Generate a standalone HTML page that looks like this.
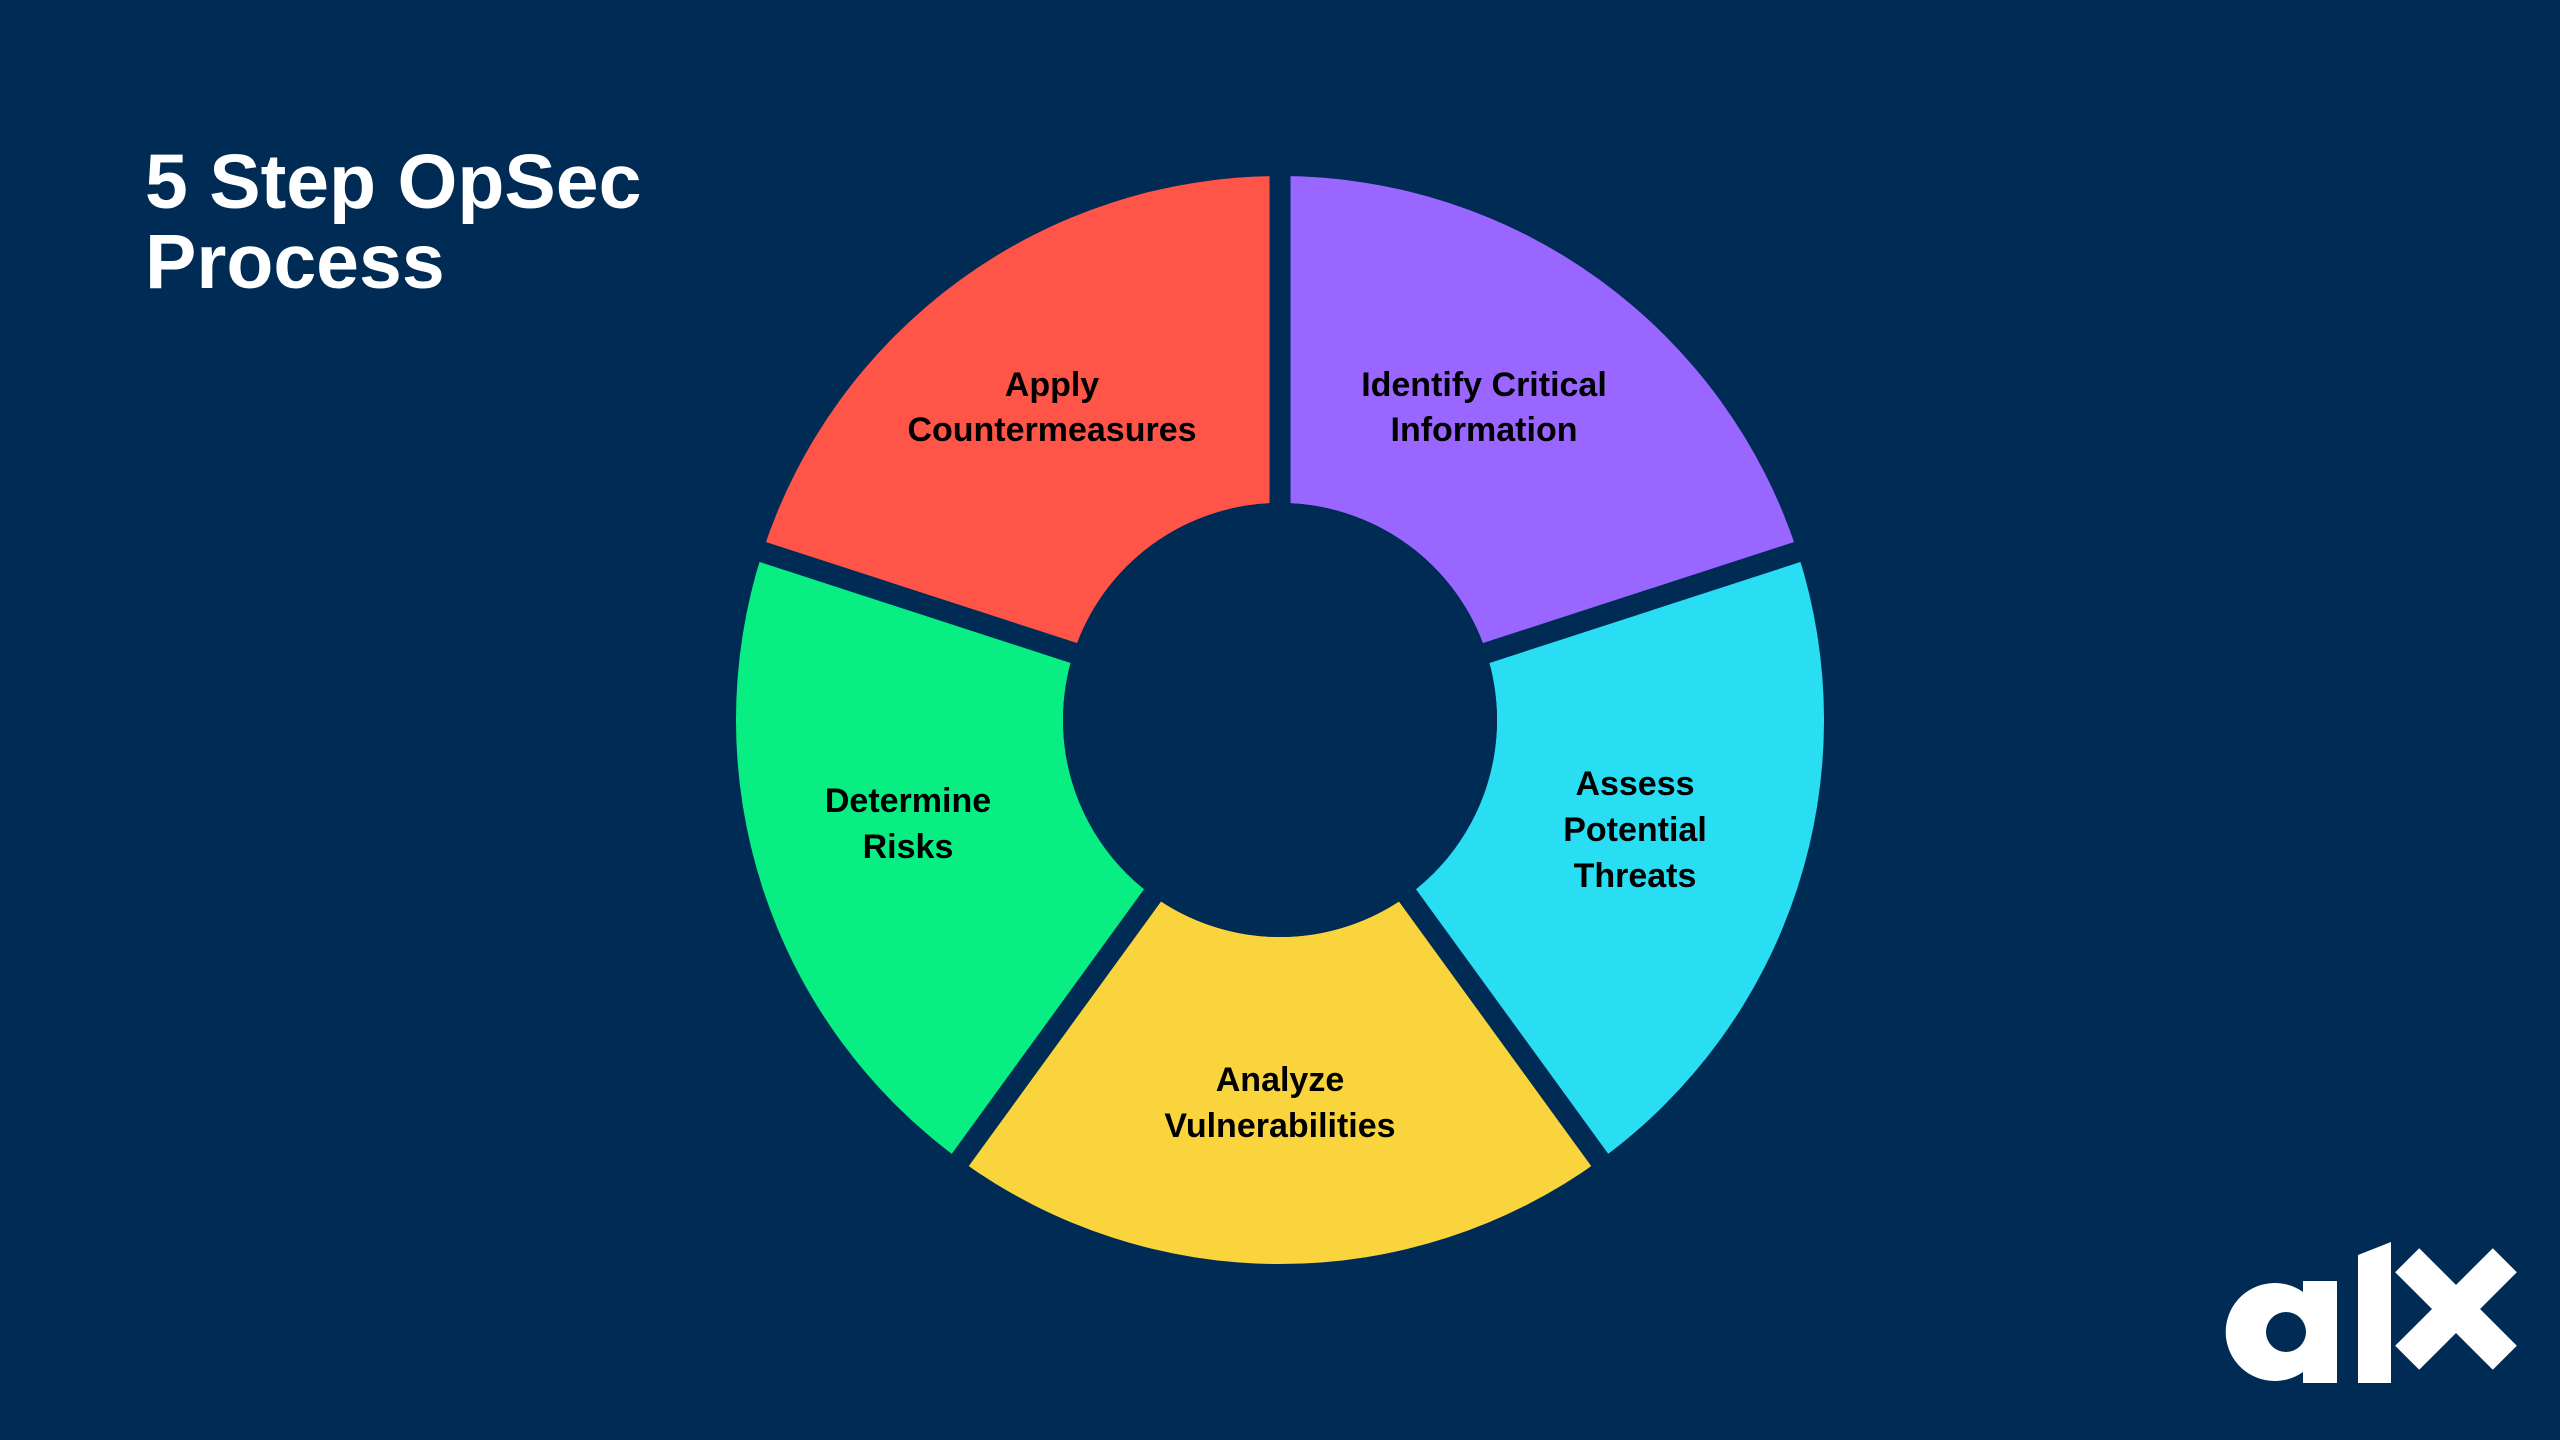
<!DOCTYPE html>
<html><head><meta charset="utf-8"><style>
html,body{margin:0;padding:0;background:#002B55;}
body{width:2560px;height:1440px;overflow:hidden;position:relative;font-family:"Liberation Sans",sans-serif;}
.t{position:absolute;left:145px;top:142px;color:#fff;font-weight:bold;font-size:77px;line-height:80px;letter-spacing:0px;}
</style></head><body>
<div class="t">5 Step OpSec<br>Process</div>
<svg width="2560" height="1440" style="position:absolute;left:0;top:0" font-family="Liberation Sans, sans-serif" font-weight="bold" font-size="34" text-anchor="middle">
<g transform="translate(1280,720)">
<path d="M0,-544 A544,544 0 0 1 517.4,-168.1 L206.4,-67.1 A217,217 0 0 0 0,-217 Z" fill="#9966FF"/>
<path d="M517.4,-168.1 A544,544 0 0 1 319.8,440.1 L127.5,175.6 A217,217 0 0 0 206.4,-67.1 Z" fill="#29DDF2"/>
<path d="M319.8,440.1 A544,544 0 0 1 -319.8,440.1 L-127.5,175.6 A217,217 0 0 0 127.5,175.6 Z" fill="#FAD43C"/>
<path d="M-319.8,440.1 A544,544 0 0 1 -517.4,-168.1 L-206.4,-67.1 A217,217 0 0 0 -127.5,175.6 Z" fill="#08EE82"/>
<path d="M-517.4,-168.1 A544,544 0 0 1 0,-544 L0,-217 A217,217 0 0 0 -206.4,-67.1 Z" fill="#FF5548"/>
<g stroke="#002B55" stroke-width="21">
<line x1="0" y1="0" x2="0" y2="-560"/>
<line x1="0" y1="0" x2="532.6" y2="-173"/>
<line x1="0" y1="0" x2="329.2" y2="453"/>
<line x1="0" y1="0" x2="-329.2" y2="453"/>
<line x1="0" y1="0" x2="-532.6" y2="-173"/>
</g>
<circle r="217" fill="#002B55"/>
</g>
<g fill="#000">
<text x="1052" y="396">Apply</text><text x="1052" y="441">Countermeasures</text>
<text x="1484" y="396">Identify Critical</text><text x="1484" y="441">Information</text>
<text x="1635" y="795">Assess</text><text x="1635" y="841">Potential</text><text x="1635" y="887">Threats</text>
<text x="1280" y="1091">Analyze</text><text x="1280" y="1137">Vulnerabilities</text>
<text x="908" y="812">Determine</text><text x="908" y="858">Risks</text>
</g>
<g fill="#fff">
<path fill-rule="evenodd" d="M2337,1281 L2337,1383 L2303,1383 L2303,1372 A49,49 0 1 1 2303,1292 L2303,1281 Z M2266,1332 A20,20 0 1 0 2306,1332 A20,20 0 1 0 2266,1332 Z"/>
<polygon points="2358,1255 2391,1242 2391,1383 2358,1383"/>
<g transform="translate(2456,1309) rotate(45)"><rect x="-69" y="-17" width="138" height="34"/><rect x="-17" y="-69" width="34" height="138"/></g>
</g>
</svg>
</body></html>
